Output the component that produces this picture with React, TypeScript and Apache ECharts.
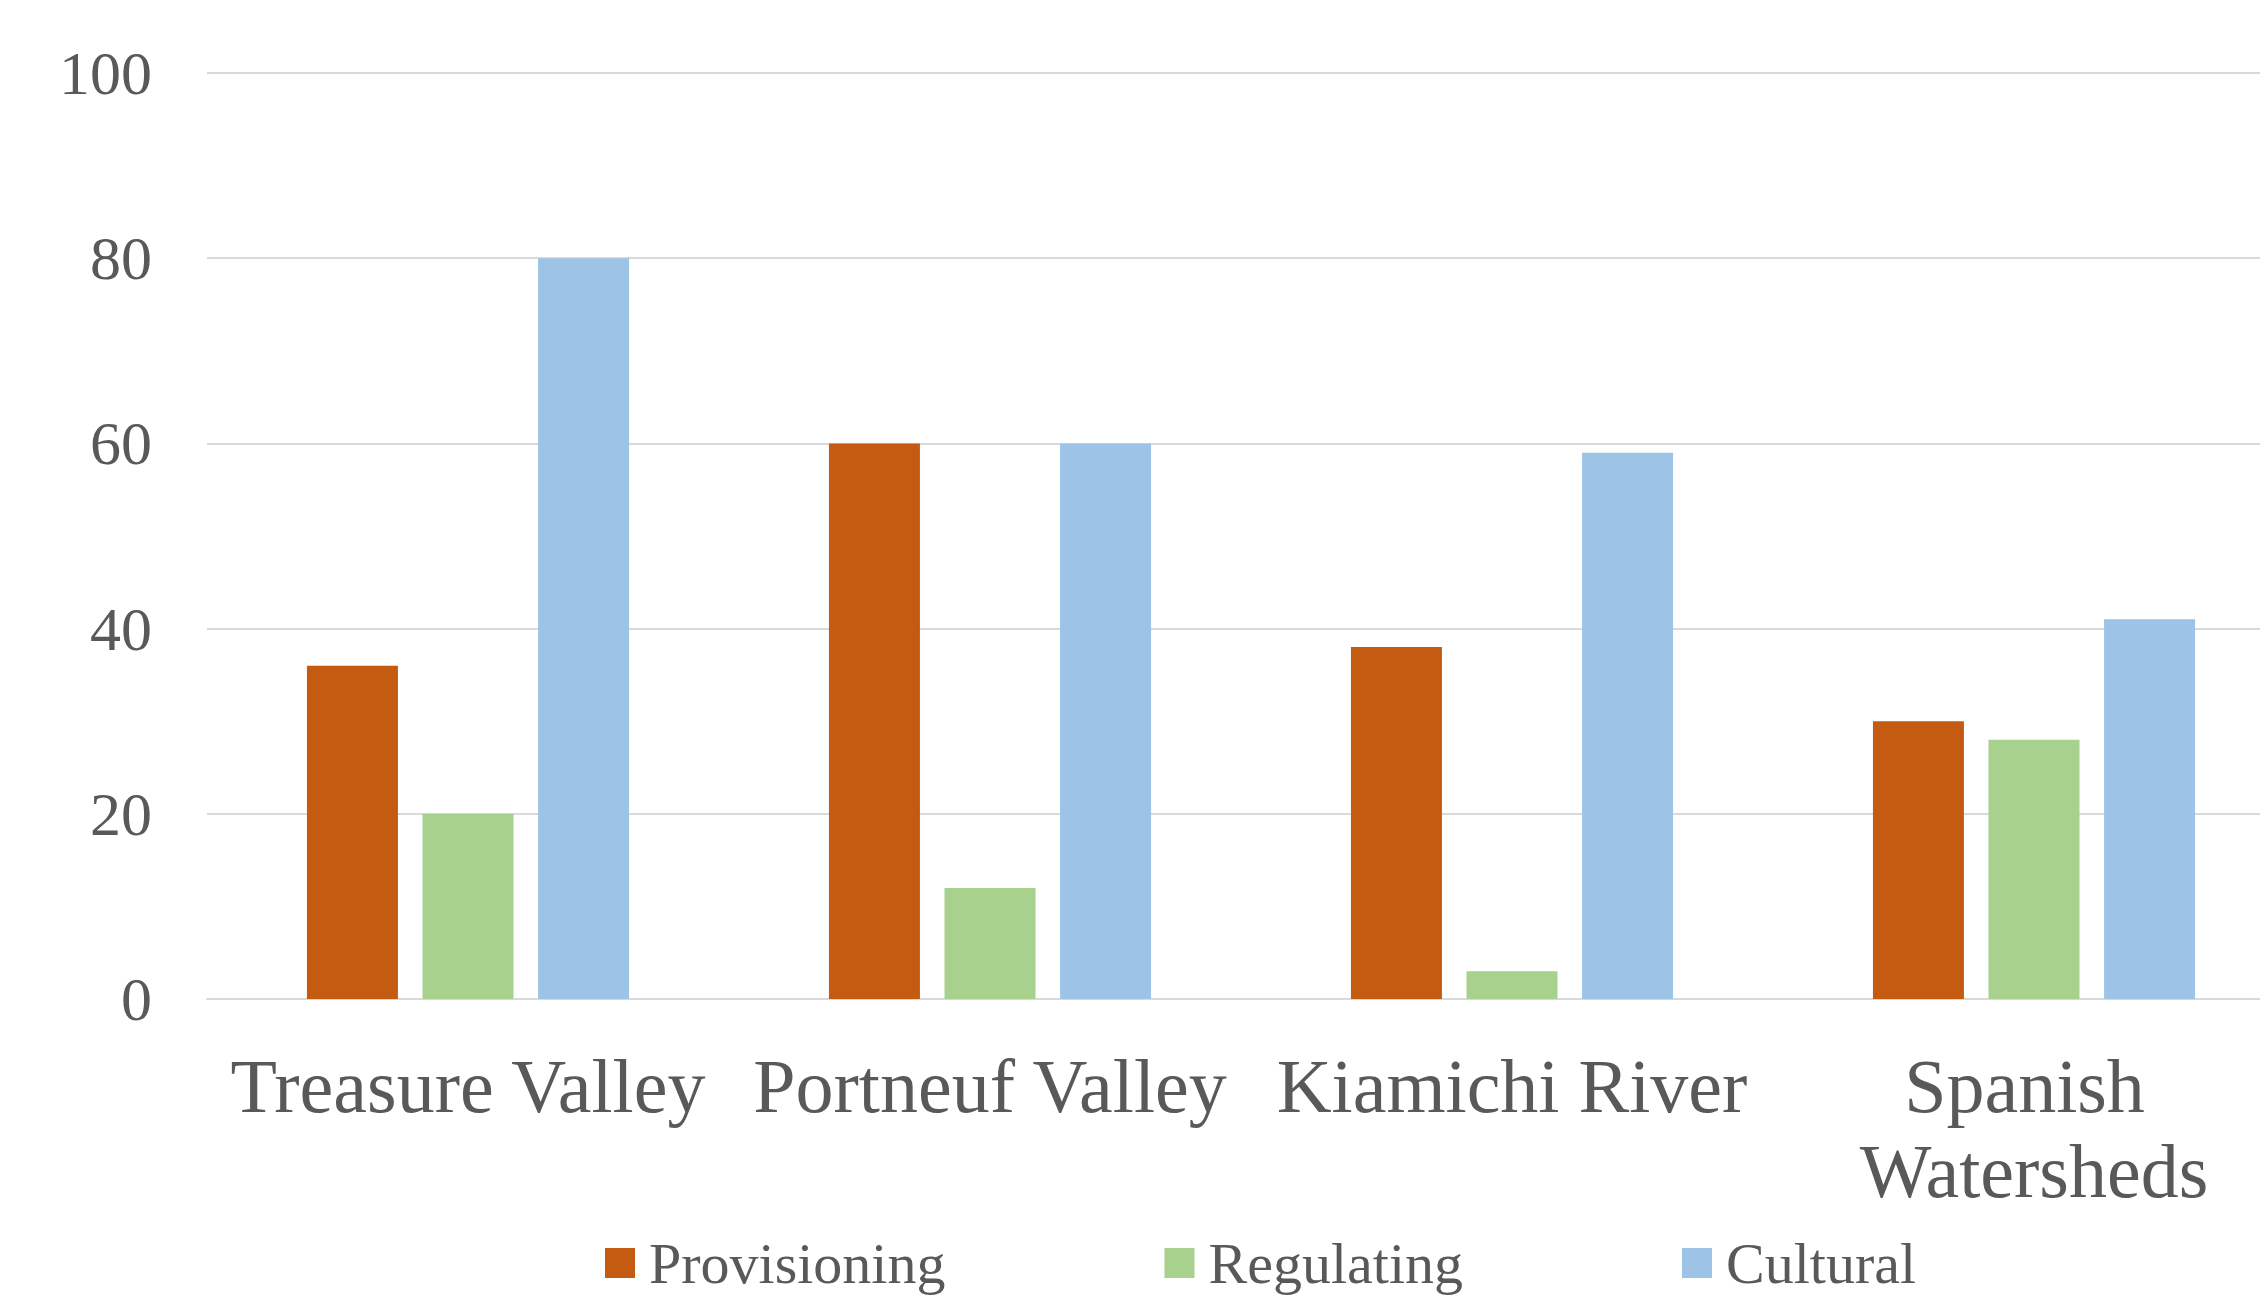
import React, { useEffect, useRef } from "react";
import * as echarts from "echarts";

const categories = ["Treasure Valley", "Portneuf Valley", "Kiamichi River", "Spanish Watersheds"];
const provisioning = [36, 60, 38, 30];
const regulating = [20, 12, 3, 28];
const cultural = [80, 60, 59, 41];
const yTicks = { min: 0, max: 100, interval: 20 };

const FONT = '"Liberation Serif", "Times New Roman", serif';
const TEXT = "#595959";

export default function App() {
  const ref = useRef<HTMLDivElement>(null);
  useEffect(() => {
    if (!ref.current) return;
    const chart = echarts.init(ref.current, null, { renderer: "svg" });
    const mk = (name: string, data: number[], color: string) => ({
      name,
      type: "bar",
      data,
      barWidth: 91,
      barGap: "27%",
      itemStyle: { color },
    });
    chart.setOption({
      animation: false,
      backgroundColor: "#ffffff",
      textStyle: { fontFamily: FONT },
      grid: { left: 207, top: 73, bottom: 300, right: 0, containLabel: false },
      legend: {
        left: 600,
        top: 1229,
        itemWidth: 30,
        itemHeight: 30,
        itemGap: 219,
        icon: "rect",
        textStyle: { fontFamily: FONT, fontSize: 58, color: TEXT, padding: [0, 0, 0, 9] },
        data: ["Provisioning", "Regulating", "Cultural"],
      },
      xAxis: {
        type: "category",
        data: categories,
        axisLine: { show: true, lineStyle: { color: "#D9D9D9", width: 2 } },
        axisTick: { show: false },
        axisLabel: {
          fontFamily: FONT,
          fontSize: 76,
          color: TEXT,
          margin: 44,
          lineHeight: 85,
          width: 505,
          overflow: "break",
          interval: 0,
        },
      },
      yAxis: {
        type: "value",
        min: yTicks.min,
        max: yTicks.max,
        interval: yTicks.interval,
        axisLine: { show: false },
        axisTick: { show: false },
        splitLine: { lineStyle: { color: "#D9D9D9", width: 2 } },
        axisLabel: { fontFamily: FONT, fontSize: 62, color: TEXT, margin: 55 },
      },
      series: [
        mk("Provisioning", provisioning, "#C55A11"),
        mk("Regulating", regulating, "#A9D18E"),
        mk("Cultural", cultural, "#9DC3E6"),
      ],
    });
    return () => chart.dispose();
  }, []);
  return (
    <div
      style={{
        position: "fixed",
        left: 0,
        top: 0,
        width: 2260,
        height: 1299,
        overflow: "hidden",
        background: "#fff",
      }}
    >
      <div ref={ref} style={{ width: 2295, height: 1299 }} />
    </div>
  );
}
